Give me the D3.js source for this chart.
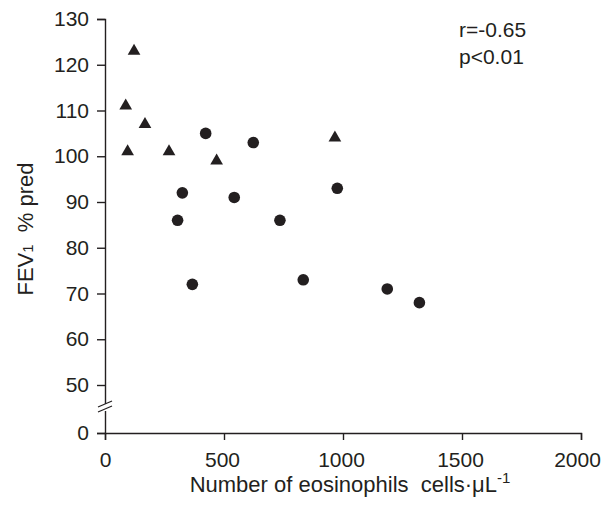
<!DOCTYPE html>
<html>
<head>
<meta charset="utf-8">
<script src="https://cdn.jsdelivr.net/npm/d3@7"></script>
<style>
  body { margin: 0; background: #fff; }
  svg { display: block; font-family: "Liberation Sans", Arial, sans-serif; }
  .axis path, .axis line { stroke: #231f20; stroke-width: 1.4; }
</style>
</head>
<body>
<svg width="604" height="508"></svg>
<script>
// eosinophils (cells/uL) vs FEV1 % pred
const triX = [122, 87, 95, 168, 269, 469, 966];
const triY = [123, 111, 101, 107, 101, 99, 104];
const dotX = [423, 623, 325, 543, 976, 305, 735, 367, 833, 1186, 1321];
const dotY = [105, 103, 92, 91, 93, 86, 86, 72, 73, 71, 68];
const xTicks = [0, 500, 1000, 1500, 2000];
const yTicks = [0, 50, 60, 70, 80, 90, 100, 110, 120, 130];
const stats = ["r=-0.65", "p<0.01"];

window.onload = () => {
    const ink = "#231f20";
    let svg = d3.select("svg");

    let x = d3.scaleLinear().domain([0, 2000]).range([105, 581]);
    // broken axis: 0 sits below a gap, 50..130 is the real range
    let y = d3.scaleLinear().domain([0, 50, 130]).range([433, 385, 19]);

    let gx = svg.append("g")
        .attr("class", "axis")
        .attr("transform", "translate(0,433)")
        .call(d3.axisBottom(x).tickValues(xTicks).tickFormat(d3.format("d"))
            .tickSizeOuter(0).tickSize(7).tickPadding(12));
    gx.selectAll("text")
        .style("font-size", "21px")
        .attr("fill", ink)
        .attr("dx", d => d == 2000 ? -4 : (d == 0 ? 0 : -2));

    let gy = svg.append("g")
        .attr("class", "axis")
        .attr("transform", "translate(105,0)")
        .call(d3.axisLeft(y).tickValues(yTicks).tickSizeOuter(0).tickSize(8).tickPadding(8));
    gy.selectAll("text")
        .style("font-size", "21px")
        .attr("fill", ink);

    // axis break
    let brk = svg.append("g");
    brk.append("line")
        .attr("x1", 105).attr("x2", 105)
        .attr("y1", 404).attr("y2", 411)
        .attr("stroke", "#fff").attr("stroke-width", 4);
    [0, 5].forEach(d => {
        brk.append("line")
            .attr("x1", 98).attr("y1", 407 + d)
            .attr("x2", 112).attr("y2", 401 + d)
            .attr("stroke", ink).attr("stroke-width", 1.2);
    });

    let tri = triX.map((v, i) => ({x: v, y: triY[i]}));
    let dots = dotX.map((v, i) => ({x: v, y: dotY[i]}));

    svg.append("g").selectAll("path")
        .data(tri)
        .enter()
        .append("path")
            .attr("d", d3.symbol().type(d3.symbolTriangle).size(70))
            .attr("transform", d => "translate(" + x(d.x) + "," + y(d.y) + ")")
            .attr("fill", ink);

    svg.append("g").selectAll("circle")
        .data(dots)
        .enter()
        .append("circle")
            .attr("cx", d => x(d.x))
            .attr("cy", d => y(d.y))
            .attr("r", 5.8)
            .attr("fill", ink);

    svg.append("g").selectAll("text")
        .data(stats)
        .enter()
        .append("text")
            .attr("x", 459)
            .attr("y", (d, i) => 37 + i * 27)
            .style("font-size", "21px")
            .attr("fill", ink)
            .text(d => d);

    let xl = svg.append("text")
        .attr("x", 350).attr("y", 492)
        .attr("text-anchor", "middle")
        .style("font-size", "22px")
        .attr("fill", ink);
    xl.append("tspan").text("Number of eosinophils\u00a0\u00a0cells\u00b7\u03bcL");
    xl.append("tspan").attr("dy", -9).style("font-size", "15px").text("-1");

    let yl = svg.append("text")
        .attr("transform", "translate(33,229) rotate(-90)")
        .attr("text-anchor", "middle")
        .style("font-size", "22px")
        .attr("fill", ink);
    yl.append("tspan").text("FEV");
    yl.append("tspan").style("font-size", "15px").text("1");
    yl.append("tspan").text("\u00a0\u00a0%\u00a0pred");
};
</script>
</body>
</html>
